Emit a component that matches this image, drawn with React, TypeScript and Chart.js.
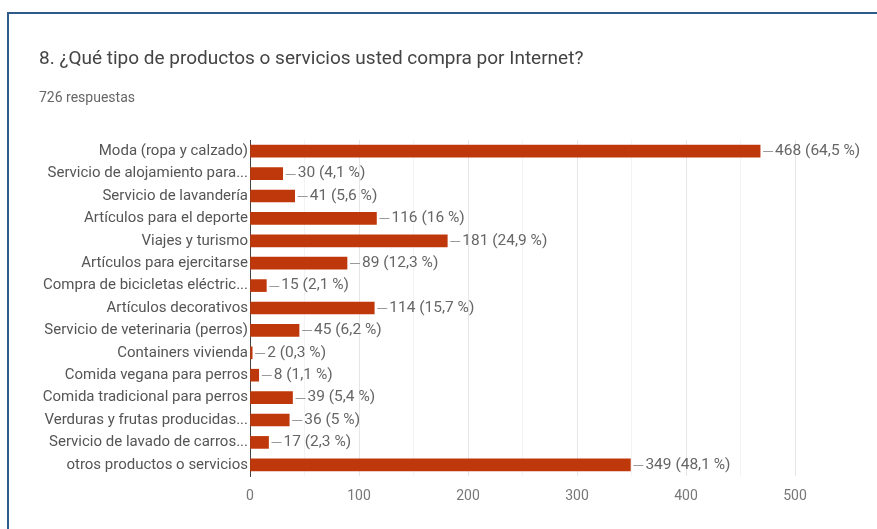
import React, { useEffect, useRef } from "react";
import { Chart, registerables } from "chart.js";

Chart.register(...registerables);

const TITLE = "8. ¿Qué tipo de productos o servicios usted compra por Internet?";
const SUBTITLE = "726 respuestas";

const categories = [
  "Moda (ropa y calzado)",
  "Servicio de alojamiento para...",
  "Servicio de lavandería",
  "Artículos para el deporte",
  "Viajes y turismo",
  "Artículos para ejercitarse",
  "Compra de bicicletas eléctric...",
  "Artículos decorativos",
  "Servicio de veterinaria (perros)",
  "Containers vivienda",
  "Comida vegana para perros",
  "Comida tradicional para perros",
  "Verduras y frutas producidas...",
  "Servicio de lavado de carros...",
  "otros productos o servicios",
];

const counts = [468, 30, 41, 116, 181, 89, 15, 114, 45, 2, 8, 39, 36, 17, 349];

const percentLabels = [
  "64,5 %", "4,1 %", "5,6 %", "16 %", "24,9 %", "12,3 %", "2,1 %", "15,7 %",
  "6,2 %", "0,3 %", "1,1 %", "5,4 %", "5 %", "2,3 %", "48,1 %",
];

const xTicks = [0, 100, 200, 300, 400, 500];

const FONT = "Roboto, Arial, sans-serif";

const valueLabelPlugin = {
  id: "valueLabels",
  afterDatasetsDraw(chart: any) {
    const ctx = chart.ctx;
    const meta = chart.getDatasetMeta(0);
    ctx.save();
    meta.data.forEach((bar: any, i: number) => {
      const x = bar.x;
      const y = bar.y;
      ctx.strokeStyle = "#9a9a9a";
      ctx.lineWidth = 1;
      ctx.beginPath();
      ctx.moveTo(x + 3, Math.round(y) + 0.5);
      ctx.lineTo(x + 13, Math.round(y) + 0.5);
      ctx.stroke();
      ctx.fillStyle = "#666666";
      ctx.font = `15.5px ${FONT}`;
      ctx.textAlign = "left";
      ctx.textBaseline = "middle";
      ctx.fillText(`${counts[i]} (${percentLabels[i]})`, x + 15, y);
    });
    ctx.restore();
  },
};

export default function App() {
  const canvasRef = useRef<HTMLCanvasElement | null>(null);

  useEffect(() => {
    if (!canvasRef.current) return;
    const chart = new Chart(canvasRef.current, {
      type: "bar",
      data: {
        labels: categories,
        datasets: [
          {
            data: counts,
            backgroundColor: "#bf380c",
            borderWidth: 0,
            barThickness: 12,
          },
        ],
      },
      options: {
        indexAxis: "y",
        animation: false,
        responsive: false,
        maintainAspectRatio: false,
        layout: { padding: { left: 0, right: 82, top: 140, bottom: 0 } },
        plugins: {
          legend: { display: false },
          tooltip: { enabled: false },
          title: { display: false },
        },
        scales: {
          x: {
            min: 0,
            max: 500,
            afterFit: (scale: any) => {
              scale.height = 53;
            },
            afterBuildTicks: (scale: any) => {
              const t: any[] = [];
              for (let v = 0; v <= 500; v += 50) t.push({ value: v });
              scale.ticks = t;
            },
            ticks: {
              padding: 12,
              color: "#777777",
              font: { family: FONT, size: 14 },
              callback: (v: any) => (xTicks.includes(Number(v)) ? String(v) : ""),
            },
            grid: {
              drawTicks: false,
              color: (c: any) => {
                const v = c.tick ? c.tick.value : 0;
                if (v === 0) return "rgba(0,0,0,0)";
                return v % 100 === 0 ? "#e6e6e6" : "#f3f3f3";
              },
            },
            border: { display: false },
          },
          y: {
            afterFit: (scale: any) => {
              scale.width = 250;
            },
            ticks: {
              padding: 2,
              color: "#555555",
              font: { family: FONT, size: 15 },
              autoSkip: false,
            },
            grid: { display: false, drawTicks: false },
            border: { display: true, color: "#444444", width: 1 },
          },
        },
      },
      plugins: [valueLabelPlugin],
    });
    return () => chart.destroy();
  }, []);

  return (
    <div
      style={{
        position: "fixed",
        left: 0,
        top: 0,
        width: 877,
        height: 529,
        background: "#ffffff",
        overflow: "hidden",
        fontFamily: FONT,
      }}
    >
      <canvas
        ref={canvasRef}
        width={877}
        height={529}
        style={{ position: "absolute", left: 0, top: 0, width: 877, height: 529 }}
      />
      <div
        style={{
          position: "absolute",
          left: 7,
          top: 12,
          right: 0,
          bottom: 0,
          borderTop: "2px solid #2c5b8c",
          borderLeft: "2px solid #2c5b8c",
          pointerEvents: "none",
        }}
      />
      <div
        style={{
          position: "absolute",
          left: 39,
          top: 47,
          fontSize: 19,
          lineHeight: "22px",
          color: "#444444",
          whiteSpace: "nowrap",
        }}
      >
        {TITLE}
      </div>
      <div
        style={{
          position: "absolute",
          left: 39,
          top: 89,
          fontSize: 14,
          lineHeight: "16px",
          color: "#666666",
          whiteSpace: "nowrap",
        }}
      >
        {SUBTITLE}
      </div>
    </div>
  );
}
